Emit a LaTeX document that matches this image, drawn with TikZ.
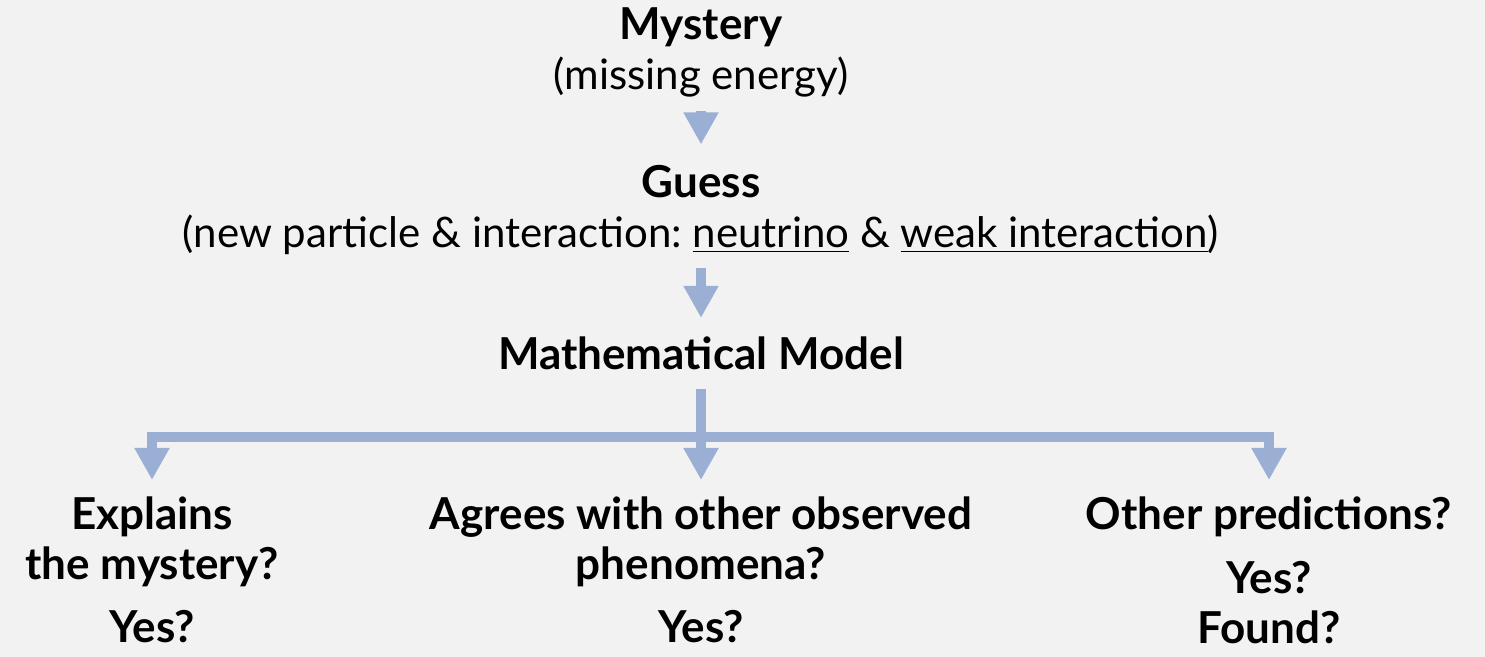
\documentclass[tikz,border=0pt]{standalone}
\usepackage{fontspec}
\setmainfont{Lato}
\usepackage{tikz}
\usetikzlibrary{arrows.meta, positioning, calc}
\definecolor{flowblue}{RGB}{155,175,212}
\definecolor{slidebg}{RGB}{242,242,242}
\frenchspacing

\begin{document}
\begin{tikzpicture}[
        x=0.5pt, y=-0.5pt,
        head/.style  ={font=\fontsize{22}{25}\selectfont\bfseries, anchor=base, inner sep=0pt},
        note/.style  ={font=\fontsize{21}{25}\selectfont, anchor=base, inner sep=0pt},
        quest/.style ={font=\fontsize{22}{25}\selectfont\bfseries, align=center, anchor=north, inner sep=0pt},
        stem/.style  ={draw=flowblue, line width=5pt},
        flow/.style  ={stem, -{Triangle[length=16pt, width=16.5pt]}}
    ]

    \fill[slidebg] (0,0) rectangle (1485,657);

    \node[head] (mystery) at (701,40)  {Mystery};
    \node[note] (missing) at (701,90)  {(missing energy)};
    \node[head] (guess)   at (701,198) {Guess};
    \node[note] (newpart) at (701,248)
          {(new particle \& interaction: \underline{neutrino} \& \underline{weak interaction})};
    \node[head] (model)   at (701,370) {Mathematical Model};

    \coordinate (fork) at (701,437);

    \node[quest] (explain) at (152,496) {Explains\\the mystery?};
    \node[quest] (agree)   at (701,496) {Agrees with other observed\\phenomena?};
    \node[quest] (other)   at (1269,496) {Other predictions?};
    \node[head]  (yesa)    at (152,643) {Yes?};
    \node[head]  (yesb)    at (701,643) {Yes?};
    \node[head, align=center, anchor=south] (yesc) at (1269,644) {Yes?\\Found?};

    \draw[flow, shorten <=6.5pt, shorten >=10.5pt] (missing) -- (guess);
    \draw[flow, shorten <=6pt, shorten >=9.5pt] (newpart) -- (model);
    \draw[stem, shorten <=9pt] (model) -- (fork);
    \draw[flow, shorten >=8pt] (fork) -| (explain.north);
    \draw[flow, shorten >=8pt] (fork) -- (agree.north);
    \draw[flow, shorten >=8pt] (fork) -| (other.north);

\end{tikzpicture}
\end{document}
